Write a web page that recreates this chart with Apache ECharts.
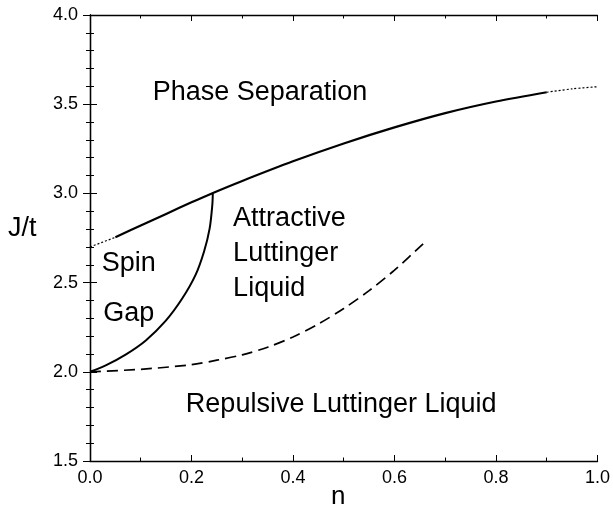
<!DOCTYPE html>
<html><head><meta charset="utf-8">
<script src="https://cdn.jsdelivr.net/npm/echarts@6/dist/echarts.min.js"></script>
<style>html,body{margin:0;padding:0;background:#fff}#c{width:613px;height:507px}</style>
</head><body><div id="c"></div>
<script>
// Phase-separation boundary
const psDotLeftX = [0, 0.05];
const psDotLeftY = [2.70, 2.754];
const psSolidX = [0.05, 0.10, 0.15, 0.20, 0.24, 0.30, 0.40, 0.50, 0.60, 0.70, 0.80, 0.90];
const psSolidY = [2.754, 2.82, 2.885, 2.95, 3.0, 3.07, 3.18, 3.28, 3.37, 3.45, 3.515, 3.567];
const psDotRightX = [0.90, 0.95, 1.0];
const psDotRightY = [3.567, 3.586, 3.598];
// Spin gap boundary
const sgX = [0, 0.031, 0.071, 0.110, 0.149, 0.182, 0.208, 0.2246, 0.2358, 0.241, 0.242];
const sgY = [2.0, 2.036, 2.098, 2.176, 2.285, 2.412, 2.543, 2.673, 2.804, 2.935, 3.0];
// Attractive / repulsive crossover (dashed)
const crX = [0, 0.1, 0.2, 0.25, 0.3, 0.35, 0.4, 0.45, 0.5, 0.55, 0.6, 0.665];
const crY = [2.0, 2.014, 2.04, 2.065, 2.095, 2.138, 2.195, 2.268, 2.355, 2.455, 2.57, 2.74];
// Region labels
const labelText = ["Phase Separation", "Spin", "Gap", "Attractive", "Luttinger", "Liquid", "Repulsive Luttinger Liquid"];
const labelX = [0.335, 0.023, 0.026, 0.282, 0.282, 0.282, 0.495];
const labelY = [3.563, 2.604, 2.326, 2.857, 2.663, 2.467, 1.819];
const labelAlign = ["center", "left", "left", "left", "left", "left", "center"];
// Axis ticks
const xMin = 0, xMax = 1, xStep = 0.2;
const yMin = 1.5, yMax = 4.0, yStep = 0.5;

const FONT = "'Liberation Sans', Arial, Helvetica, sans-serif";
const zip = (xs, ys) => xs.map((x, i) => [x, ys[i]]);

const axisLine = {show: true, lineStyle: {color: '#000', width: 1.3}};
function xAx(pos, showLabel) {
  return {
    type: 'value', position: pos, min: xMin, max: xMax, interval: xStep,
    axisLine, splitLine: {show: false},
    axisTick: {show: true, inside: true, length: 6, lineStyle: {color: '#000', width: 1}},
    minorTick: {show: true, splitNumber: 2, length: 3.5, lineStyle: {color: '#000', width: 1}},
    axisLabel: {show: showLabel, fontFamily: FONT, fontSize: 18, color: '#000', margin: 8,
      formatter: v => v.toFixed(1)}
  };
}
function yAx(pos, showLabel) {
  return {
    type: 'value', position: pos, min: yMin, max: yMax, interval: yStep,
    axisLine, splitLine: {show: false},
    axisTick: {show: true, inside: true, length: 7, lineStyle: {color: '#000', width: 1}},
    minorTick: {show: true, splitNumber: 5, length: 4, lineStyle: {color: '#000', width: 1}},
    axisLabel: {show: showLabel, fontFamily: FONT, fontSize: 18, color: '#000', margin: 12,
      formatter: v => v.toFixed(1)}
  };
}

const chart = echarts.init(document.getElementById('c'), null, {renderer: 'canvas'});
const lineBase = {type: 'line', showSymbol: false, symbol: 'none', silent: true, animation: false,
  xAxisIndex: 0, yAxisIndex: 0};

chart.setOption({
  backgroundColor: '#fff',
  animation: false,
  grid: {left: 90, top: 15, right: 14, bottom: 46, containLabel: false},
  xAxis: [xAx('bottom', true), xAx('top', false)],
  yAxis: [yAx('left', true), yAx('right', false)],
  graphic: [
    {type: 'text', left: 8, top: 229 - 14, style: {text: 'J/t', font: '27px ' + FONT, fill: '#000'}},
    {type: 'text', left: 331, top: 484, style: {text: 'n', font: '26px ' + FONT, fill: '#000'}}
  ],
  series: [
    Object.assign({}, lineBase, {data: zip(psDotLeftX, psDotLeftY), lineStyle: {color: '#000', width: 1.2, type: [2, 2]}}),
    Object.assign({}, lineBase, {data: zip(psSolidX, psSolidY), smooth: 0.3, lineStyle: {color: '#000', width: 2.2, join: 'round'}}),
    Object.assign({}, lineBase, {data: zip(psDotRightX, psDotRightY), smooth: 0.3, lineStyle: {color: '#000', width: 1.2, type: [2, 2]}}),
    Object.assign({}, lineBase, {data: zip(sgX, sgY), smooth: 0.3, lineStyle: {color: '#000', width: 2, join: 'round'}}),
    Object.assign({}, lineBase, {data: zip(crX, crY), smooth: 0.3, lineStyle: {color: '#000', width: 1.7, type: [11, 6]}}),
    {
      type: 'scatter', symbolSize: 0, silent: true, animation: false,
      itemStyle: {opacity: 1, color: '#000'},
      data: labelText.map((t, i) => ({value: [labelX[i], labelY[i]], name: t,
        label: {align: labelAlign[i]}})),
      label: {show: true, position: [0, 0], verticalAlign: 'middle', formatter: p => p.name,
        fontFamily: FONT, fontSize: 27, color: '#000', opacity: 1, textBorderWidth: 0}
    }
  ]
});
</script>
</body></html>
